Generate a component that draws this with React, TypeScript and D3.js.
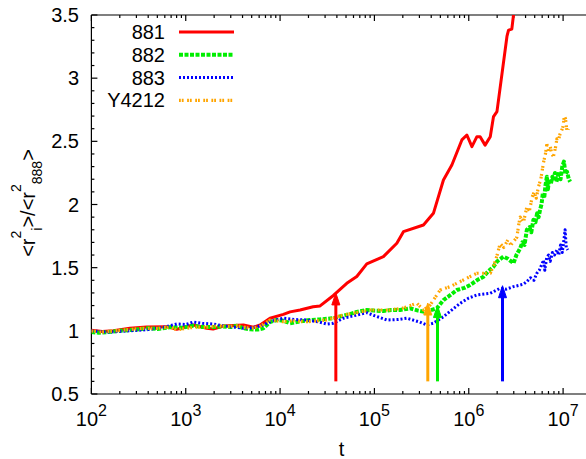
import * as d3 from "d3";

// time series: [t, <r^2_i>/<r^2_888>]
const series881: [number, number][] = [
  [100, 1.005], [130, 0.995], [171, 1.0], [256, 1.02], [386, 1.03], [629, 1.033],
  [803, 1.012], [1205, 1.046], [1671, 1.02], [1950, 1.015], [2506, 1.038], [4085, 1.046],
  [5210, 1.028], [6140, 1.046], [7830, 1.1], [10840, 1.13], [12760, 1.15], [16300, 1.165],
  [22400, 1.19], [26550, 1.197], [36730, 1.28], [50930, 1.376], [65030, 1.43], [82990, 1.53],
  [124500, 1.587], [172800, 1.693], [203000, 1.785], [331000, 1.838], [422000, 1.93],
  [539000, 2.194], [662000, 2.313], [845000, 2.511], [955000, 2.55], [1.08e6, 2.458],
  [1.22e6, 2.537], [1.32e6, 2.537], [1.49e6, 2.47], [1.69e6, 2.537], [1.83e6, 2.696],
  [1.99e6, 2.735], [2.54e6, 3.33], [2.64e6, 3.38], [2.86e6, 3.388], [2.98e6, 3.5], [3.3e6, 3.75],
];

const series882: [number, number][] = [
  [100, 0.99], [120, 0.985], [150, 0.99], [200, 1.0], [300, 1.01], [400, 1.02], [500, 1.015],
  [700, 1.03], [900, 1.025], [1200, 1.04], [1500, 1.03], [2000, 1.03], [2500, 1.035],
  [3000, 1.03], [3500, 1.04], [4100, 1.02], [4810, 1.012], [5800, 1.01], [6650, 1.02],
  [7830, 1.07], [9230, 1.086], [10840, 1.08], [12760, 1.06], [15000, 1.07], [20800, 1.086],
  [26000, 1.09], [36730, 1.1], [46880, 1.12], [55190, 1.133], [65030, 1.15], [82990, 1.165],
  [100000, 1.16], [124500, 1.157], [150000, 1.165], [187500, 1.165], [239300, 1.178],
  [290000, 1.16], [331000, 1.152], [380000, 1.16], [459300, 1.178], [539700, 1.244],
  [630000, 1.28], [748000, 1.323], [900000, 1.34], [1.035e6, 1.363], [1.219e6, 1.4],
  [1.433e6, 1.429], [1.6e6, 1.47], [1.829e6, 1.508], [2.0e6, 1.55], [2.334e6, 1.587],
  [2.6e6, 1.57], [2.98e6, 1.535], [3.2e6, 1.6], [3.51e6, 1.654], [3.7e6, 1.7], [3.9e6, 1.68],
  [4.13e6, 1.8], [4.4e6, 1.82], [4.6e6, 1.78], [4.85e6, 1.88], [5.1e6, 1.86], [5.3e6, 1.93],
  [5.5e6, 1.9], [5.71e6, 1.96], [5.9e6, 2.0], [6.1e6, 2.09], [6.3e6, 2.05], [6.5e6, 2.15],
  [6.73e6, 2.22], [6.9e6, 2.12], [7.1e6, 2.2], [7.4e6, 2.16], [7.7e6, 2.22], [7.9e6, 2.19],
  [8.2e6, 2.25], [8.5e6, 2.18], [8.8e6, 2.22], [9.1e6, 2.26], [9.4e6, 2.2], [9.8e6, 2.3],
  [1.02e7, 2.34], [1.06e7, 2.24], [1.1e7, 2.26], [1.15e7, 2.2], [1.188e7, 2.18],
];

const series883: [number, number][] = [
  [100, 1.0], [150, 0.99], [250, 1.0], [400, 1.01], [600, 1.03], [803, 1.054], [1000, 1.05],
  [1205, 1.07], [1500, 1.06], [1950, 1.054], [2500, 1.04], [3200, 1.03], [4085, 1.02],
  [5210, 1.025], [6650, 1.046], [7830, 1.072], [10840, 1.1], [14000, 1.09], [19190, 1.086],
  [26000, 1.07], [31260, 1.054], [36730, 1.06], [46880, 1.1], [65030, 1.125], [82990, 1.144],
  [100000, 1.12], [135200, 1.086], [180000, 1.09], [220800, 1.1], [300000, 1.07],
  [359700, 1.046], [420000, 1.06], [539700, 1.112], [700000, 1.18], [810400, 1.218],
  [1.0e6, 1.26], [1.219e6, 1.284], [1.687e6, 1.297], [2.15e6, 1.337], [2.5e6, 1.33],
  [2.98e6, 1.35], [3.4e6, 1.36], [3.8e6, 1.37], [4.13e6, 1.39], [4.5e6, 1.42], [4.9e6, 1.4],
  [5.27e6, 1.456], [5.6e6, 1.48], [5.9e6, 1.52], [6.2e6, 1.56], [6.4e6, 1.48], [6.7e6, 1.58],
  [7.0e6, 1.6], [7.3e6, 1.55], [7.7e6, 1.62], [8.1e6, 1.6], [8.59e6, 1.64], [9.0e6, 1.6],
  [9.4e6, 1.68], [9.8e6, 1.62], [1.02e7, 1.72], [1.05e7, 1.8], [1.08e7, 1.66], [1.12e7, 1.64],
];

const seriesY4212: [number, number][] = [
  [100, 1.0], [130, 0.99], [180, 1.0], [250, 1.01], [350, 1.02], [500, 1.02], [700, 1.03],
  [803, 1.007], [1000, 1.02], [1300, 1.03], [1700, 1.03], [2200, 1.04], [2800, 1.035],
  [3500, 1.04], [4100, 1.03], [4810, 1.02], [6000, 1.03], [7830, 1.086], [10840, 1.072],
  [14000, 1.08], [19190, 1.072], [31260, 1.086], [46880, 1.125], [65030, 1.144],
  [89950, 1.165], [146600, 1.165], [200000, 1.18], [281700, 1.218], [331000, 1.165],
  [389900, 1.205], [497700, 1.323], [635300, 1.35], [878500, 1.403], [1.219e6, 1.456],
  [1.69e6, 1.456], [1.85e6, 1.52], [2.0e6, 1.6], [2.15e6, 1.69], [2.35e6, 1.66], [2.6e6, 1.72],
  [2.8e6, 1.68], [3.0e6, 1.71], [3.235e6, 1.74], [3.4e6, 1.85], [3.51e6, 1.9], [3.8e6, 1.86],
  [4.13e6, 1.98], [4.4e6, 1.95], [4.7e6, 2.06], [4.95e6, 2.1], [5.2e6, 2.05], [5.48e6, 2.14],
  [5.8e6, 2.2], [6.19e6, 2.33], [6.5e6, 2.4], [6.73e6, 2.48], [7.0e6, 2.42], [7.3e6, 2.46],
  [7.6e6, 2.4], [7.9e6, 2.38], [8.3e6, 2.45], [8.6e6, 2.52], [8.93e6, 2.51], [9.3e6, 2.56],
  [9.7e6, 2.59], [1.0e7, 2.62], [1.03e7, 2.7], [1.06e7, 2.68], [1.1e7, 2.58], [1.14e7, 2.6],
];

const seriesNames = ["881", "882", "883", "Y4212"];
const seriesColors = ["#ff0000", "#00ee00", "#0000ff", "#ffa500"];
const seriesDash = ["", "4,1.5", "2,2", "1.8,1,1.8,3.5"];
const seriesWidth = [3, 4, 3, 3.2];
const allSeries = [series881, series882, series883, seriesY4212];

// arrows: t position and tip value, base at 0.6
const arrowT = [3.9e4, 3.68e5, 4.66e5, 2.28e6];
const arrowTip = [1.3, 1.22, 1.2, 1.357];
const arrowColors = ["#ff0000", "#ffa500", "#00ee00", "#0000ff"];
const arrowBase = 0.6;

const xTickExps = [2, 3, 4, 5, 6, 7];
const yTicks = [0.5, 1, 1.5, 2, 2.5, 3, 3.5];

const WIDTH = 586;
const HEIGHT = 459;
const MARGIN = { top: 15, left: 91.4, bottom: 394 };
const FONT = "'Liberation Sans', Arial, Helvetica, sans-serif";

export default function App() {
  const xScale = d3.scaleLog().domain([100, Math.pow(10, 7.3)]).range([MARGIN.left, 591.4]);
  const yScale = d3.scaleLinear().domain([0.5, 3.5]).range([MARGIN.bottom, MARGIN.top]);

  const line = d3
    .line<[number, number]>()
    .x((d) => xScale(d[0]))
    .y((d) => yScale(d[1]));

  const x0 = MARGIN.left;
  const x1 = 591.4;
  const y0 = MARGIN.bottom;
  const y1 = MARGIN.top;

  const minorX: number[] = [];
  xTickExps.forEach((e) => {
    for (let k = 2; k <= 9; k++) minorX.push(k * Math.pow(10, e));
  });
  const minorY = d3.range(0.6, 3.5, 0.1).filter((v) => Math.abs(v * 2 - Math.round(v * 2)) > 1e-6);

  return (
    <svg
      width={WIDTH}
      height={HEIGHT}
      style={{ position: "absolute", left: 0, top: 0, background: "#fff" }}
      fontFamily={FONT}
    >
      <defs>
        <clipPath id="plot">
          <rect x={x0} y={y1} width={x1 - x0} height={y0 - y1} />
        </clipPath>
      </defs>

      {/* frame */}
      <g stroke="#000" strokeWidth={1.2} fill="none">
        <line x1={x0} y1={y0} x2={x1} y2={y0} />
        <line x1={x0} y1={y1} x2={x1} y2={y1} />
        <line x1={x0} y1={y0} x2={x0} y2={y1} />
        {xTickExps.map((e) => {
          const x = xScale(Math.pow(10, e));
          return (
            <g key={e}>
              <line x1={x} y1={y0} x2={x} y2={y0 - 6} />
              <line x1={x} y1={y1} x2={x} y2={y1 + 6} />
            </g>
          );
        })}
        {minorX.map((v) => {
          const x = xScale(v);
          return (
            <g key={v}>
              <line x1={x} y1={y0} x2={x} y2={y0 - 3} />
              <line x1={x} y1={y1} x2={x} y2={y1 + 3} />
            </g>
          );
        })}
        {yTicks.map((v) => (
          <line key={v} x1={x0} y1={yScale(v)} x2={x0 + 6} y2={yScale(v)} />
        ))}
        {minorY.map((v) => (
          <line key={v} x1={x0} y1={yScale(v)} x2={x0 + 3} y2={yScale(v)} />
        ))}
      </g>

      {/* tick labels */}
      <g fontSize={20} fill="#000">
        {yTicks.map((v) => (
          <text key={v} x={79} y={yScale(v) + 7} textAnchor="end">
            {String(v)}
          </text>
        ))}
        {xTickExps.map((e) => (
          <text key={e} x={xScale(Math.pow(10, e))} y={426} textAnchor="middle">
            10
            <tspan fontSize={16} dy={-10}>
              {String(e)}
            </tspan>
          </text>
        ))}
        <text x={341.5} y={456} textAnchor="middle">
          t
        </text>
        <text transform="translate(35,203) rotate(-90)" textAnchor="middle">
          {"<r"}
          <tspan fontSize={14} dy={-14}>2</tspan>
          <tspan fontSize={14} dy={21}>i</tspan>
          <tspan dy={-7}>{">/<r"}</tspan>
          <tspan fontSize={14} dy={-14}>2</tspan>
          <tspan fontSize={14} dy={21}>888</tspan>
          <tspan dy={-7}>{">"}</tspan>
        </text>
      </g>

      {/* data */}
      <g clipPath="url(#plot)" fill="none">
        {allSeries.map((s, i) => (
          <path
            key={seriesNames[i]}
            d={line(s) ?? ""}
            stroke={seriesColors[i]}
            strokeWidth={seriesWidth[i]}
            strokeDasharray={seriesDash[i] || undefined}
            strokeLinejoin="round"
          />
        ))}
      </g>

      {/* arrows */}
      {arrowT.map((t, i) => {
        const x = xScale(t);
        const yb = yScale(arrowBase);
        const yt = yScale(arrowTip[i]);
        return (
          <g key={t} fill={arrowColors[i]} stroke={arrowColors[i]}>
            <line x1={x} y1={yb} x2={x} y2={yt + 8} strokeWidth={3} />
            <path d={`M${x},${yt} L${x - 4},${yt + 12} L${x + 4},${yt + 12} Z`} strokeWidth={1} />
          </g>
        );
      })}

      {/* legend */}
      <g fontSize={20}>
        {seriesNames.map((name, i) => {
          const cy = 32 + i * 22.8;
          return (
            <g key={name}>
              <text x={165} y={cy + 7} textAnchor="end" fill="#000">
                {name}
              </text>
              <line
                x1={179}
                x2={234}
                y1={cy}
                y2={cy}
                stroke={seriesColors[i]}
                strokeWidth={seriesWidth[i]}
                strokeDasharray={seriesDash[i] || undefined}
              />
            </g>
          );
        })}
      </g>
    </svg>
  );
}
